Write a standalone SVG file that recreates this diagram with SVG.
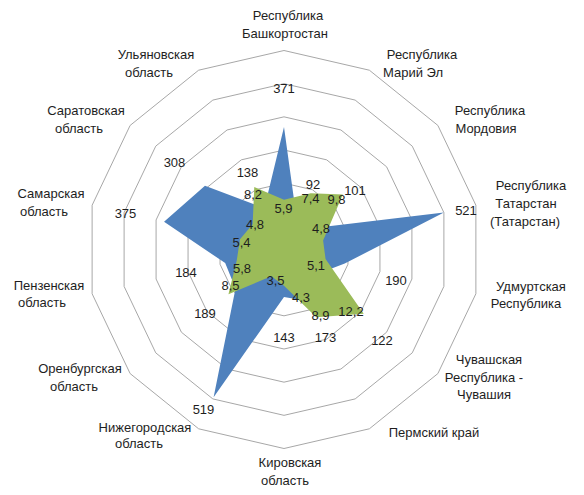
<svg xmlns="http://www.w3.org/2000/svg" width="584" height="495" viewBox="0 0 584 495">
<style>
text{font-family:"Liberation Sans",Arial,sans-serif;font-size:13px;fill:#1e1e1e;text-anchor:middle}
.ring{fill:none;stroke:#a6a6a6;stroke-width:1}
</style>
<rect width="584" height="495" fill="#ffffff"/>
<g id="grid" transform="translate(284 249.5) scale(0.989 1)">
<polygon class="ring" points="0,-33.17 14.39,-29.89 25.93,-20.68 32.34,-7.38 32.34,7.38 25.93,20.68 14.39,29.89 0,33.17 -14.39,29.89 -25.93,20.68 -32.34,7.38 -32.34,-7.38 -25.93,-20.68 -14.39,-29.89"/>
<polygon class="ring" points="0,-66.33 28.78,-59.76 51.86,-41.36 64.67,-14.76 64.67,14.76 51.86,41.36 28.78,59.76 0,66.33 -28.78,59.76 -51.86,41.36 -64.67,14.76 -64.67,-14.76 -51.86,-41.36 -28.78,-59.76"/>
<polygon class="ring" points="0,-99.5 43.17,-89.65 77.79,-62.04 97.01,-22.14 97.01,22.14 77.79,62.04 43.17,89.65 0,99.5 -43.17,89.65 -77.79,62.04 -97.01,22.14 -97.01,-22.14 -77.79,-62.04 -43.17,-89.65"/>
<polygon class="ring" points="0,-132.67 57.56,-119.53 103.72,-82.72 129.34,-29.52 129.34,29.52 103.72,82.72 57.56,119.53 0,132.67 -57.56,119.53 -103.72,82.72 -129.34,29.52 -129.34,-29.52 -103.72,-82.72 -57.56,-119.53"/>
<polygon class="ring" points="0,-165.83 71.95,-149.41 129.65,-103.39 161.67,-36.90 161.67,36.90 129.65,103.39 71.95,149.41 0,165.83 -71.95,149.41 -129.65,103.39 -161.67,36.90 -161.67,-36.90 -129.65,-103.39 -71.95,-149.41"/>
<polygon class="ring" points="0,-199 86.34,-179.29 155.58,-124.07 194.01,-44.28 194.01,44.28 155.58,124.07 86.34,179.29 0,199 -86.34,179.29 -155.58,124.07 -194.01,44.28 -194.01,-44.28 -155.58,-124.07 -86.34,-179.29"/>
</g>
<g id="series" transform="translate(284 249.5) scale(0.989 1)">
<polygon id="series-blue" fill="#4f81bd" points="0,-122.5 13.23,-27.48 26.19,-20.89 161.67,-36.90 61.42,14.02 31.66,25.25 24.90,51.72 0,47.4 -71.16,147.76 -49.02,39.09 -59.47,13.57 -121.28,-27.68 -79.90,-63.72 -19.87,-41.26"/>
<polygon id="series-green" fill="#9bbb59" points="0,-49.86 27.13,-56.34 59.5,-55 39.54,-9.03 42.02,9.59 80.60,64.28 32.63,67.76 0,36.34 -12.83,26.65 -56.16,44.78 -47.78,10.91 -44.49,-10.15 -31.71,-25.29 -30.06,-62.43"/>
</g>
<g id="category-labels">
<g id="cat-bashkortostan"><text x="288" y="20">Республика</text><text x="285" y="38">Башкортостан</text></g>
<g id="cat-mari-el"><text x="422" y="59">Республика</text><text x="413" y="77">Марий Эл</text></g>
<g id="cat-mordovia"><text x="490" y="115">Республика</text><text x="486" y="133">Мордовия</text></g>
<g id="cat-tatarstan"><text x="531" y="190">Республика</text><text x="526" y="208">Татарстан</text><text x="525" y="226">(Татарстан)</text></g>
<g id="cat-udmurtia"><text x="531" y="291">Удмуртская</text><text x="526" y="308">Республика</text></g>
<g id="cat-chuvashia"><text x="489" y="364">Чувашская</text><text x="484" y="382">Республика -</text><text x="484" y="399">Чувашия</text></g>
<g id="cat-perm"><text x="434" y="437">Пермский край</text></g>
<g id="cat-kirov"><text x="290" y="467">Кировская</text><text x="285" y="485">область</text></g>
<g id="cat-nizhny"><text x="145" y="432">Нижегородская</text><text x="139" y="448">область</text></g>
<g id="cat-orenburg"><text x="80" y="373">Оренбургская</text><text x="74" y="391">область</text></g>
<g id="cat-penza"><text x="49" y="290">Пензенская</text><text x="42" y="307">область</text></g>
<g id="cat-samara"><text x="51" y="198">Самарская</text><text x="44" y="216">область</text></g>
<g id="cat-saratov"><text x="86" y="115">Саратовская</text><text x="79" y="133">область</text></g>
<g id="cat-ulyanovsk"><text x="156" y="59">Ульяновская</text><text x="149" y="77">область</text></g>
</g>
<g id="blue-labels">
<text x="284" y="93">371</text>
<text x="313" y="189">92</text>
<text x="355" y="195">101</text>
<text x="466" y="215">521</text>
<text x="396" y="285">190</text>
<text x="382" y="345">122</text>
<text x="325.5" y="342">173</text>
<text x="284" y="342">143</text>
<text x="203.5" y="414">519</text>
<text x="205" y="318">189</text>
<text x="186" y="277">184</text>
<text x="125.5" y="218">375</text>
<text x="174.5" y="167">308</text>
<text x="247.5" y="177">138</text>
</g>
<g id="green-labels">
<text x="283.5" y="213">5,9</text>
<text x="310.5" y="203">7,4</text>
<text x="336.5" y="204">9,8</text>
<text x="321" y="233">4,8</text>
<text x="316" y="270">5,1</text>
<text x="351" y="316">12,2</text>
<text x="320.5" y="320">8,9</text>
<text x="301" y="302">4,3</text>
<text x="275.5" y="285">3,5</text>
<text x="230.5" y="290">8,5</text>
<text x="242" y="273">5,8</text>
<text x="241.5" y="247">5,4</text>
<text x="255" y="229">4,8</text>
<text x="253" y="199">8,2</text>
</g>
</svg>
